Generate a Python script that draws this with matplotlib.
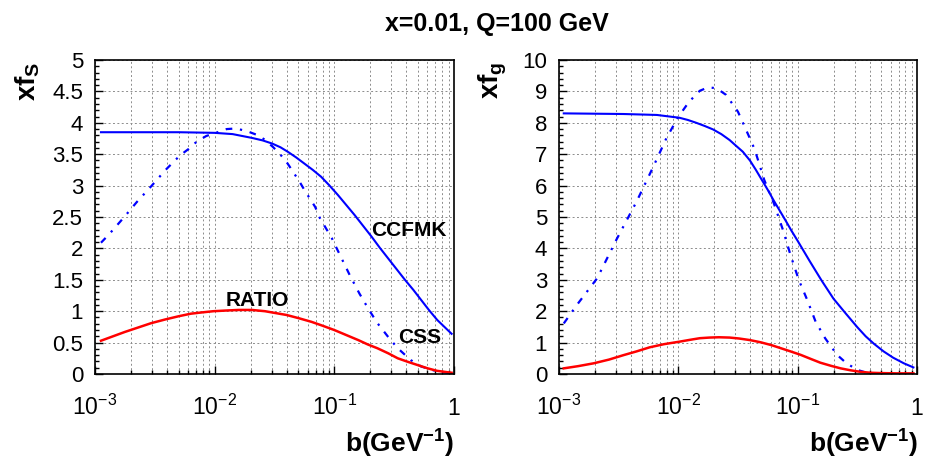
import matplotlib
matplotlib.use('Agg')
import matplotlib.pyplot as plt
import numpy as np
from matplotlib.ticker import MultipleLocator, LogLocator, NullFormatter

plt.rcParams['font.family'] = ['Liberation Sans', 'DejaVu Sans']
plt.rcParams['mathtext.fontset'] = 'custom'
plt.rcParams['mathtext.rm'] = 'Liberation Sans'
plt.rcParams['mathtext.it'] = 'Liberation Sans:italic'
plt.rcParams['mathtext.bf'] = 'Liberation Sans:bold'
plt.rcParams['mathtext.default'] = 'regular'

# log10(b) and xf values
# left panel: sea quarks
lb_s_ccfmk = [-2.95, -2.6, -2.3, -2.0, -1.85, -1.77, -1.69, -1.60, -1.52, -1.45,
              -1.39, -1.32, -1.25, -1.18, -1.11, -1.04, -0.97, -0.90, -0.83, -0.76,
              -0.69, -0.62, -0.55, -0.48, -0.41, -0.34, -0.275, -0.21, -0.14, -0.08,
              -0.02]
xfs_ccfmk = [3.85, 3.85, 3.85, 3.84, 3.82, 3.79, 3.76, 3.72, 3.67, 3.61,
             3.54, 3.45, 3.35, 3.25, 3.14, 3.00, 2.85, 2.69, 2.53, 2.36,
             2.19, 2.01, 1.84, 1.67, 1.50, 1.34, 1.18, 1.02, 0.86, 0.75,
             0.64]

lb_s_css = [-2.95, -2.88, -2.76, -2.65, -2.53, -2.41, -2.29, -2.22, -2.15, -2.07,
            -1.99, -1.90, -1.82, -1.72, -1.65, -1.58, -1.51, -1.44, -1.39, -1.29,
            -1.25, -1.16, -1.12, -1.07, -1.02, -0.98, -0.87, -0.79, -0.71, -0.64,
            -0.55, -0.47, -0.36, -0.275, -0.14, -0.02]
xfs_css = [2.09, 2.23, 2.49, 2.74, 2.99, 3.25, 3.48, 3.58, 3.70, 3.79,
           3.84, 3.90, 3.91, 3.86, 3.81, 3.73, 3.61, 3.47, 3.35, 3.06,
           2.93, 2.66, 2.48, 2.32, 2.16, 2.00, 1.57, 1.28, 1.02, 0.81,
           0.59, 0.41, 0.22, 0.12, 0.04, 0.01]

lb_s_ratio = [-2.95, -2.85, -2.75, -2.64, -2.53, -2.41, -2.30, -2.20, -2.11, -2.01,
              -1.91, -1.80, -1.69, -1.58, -1.49, -1.40, -1.30, -1.19, -1.10, -1.00,
              -0.90, -0.80, -0.72, -0.64, -0.55, -0.47, -0.38, -0.30, -0.22, -0.14,
              -0.02]
xfs_ratio = [0.53, 0.60, 0.67, 0.74, 0.81, 0.87, 0.92, 0.96, 0.98, 1.00,
             1.01, 1.02, 1.02, 1.00, 0.97, 0.94, 0.89, 0.83, 0.77, 0.70,
             0.62, 0.54, 0.47, 0.41, 0.33, 0.25, 0.19, 0.14, 0.09, 0.05,
             0.02]

# right panel: gluon
lb_g_ccfmk = [-2.96, -2.46, -2.18, -1.99, -1.92, -1.85, -1.78, -1.71, -1.64, -1.57,
              -1.52, -1.46, -1.40, -1.35, -1.30, -1.25, -1.20, -1.15, -1.10, -1.05,
              -1.00, -0.90, -0.80, -0.70, -0.60, -0.50, -0.43, -0.36, -0.28, -0.20,
              -0.11, -0.03]
xfg_ccfmk = [8.30, 8.28, 8.25, 8.16, 8.09, 8.00, 7.90, 7.79, 7.64, 7.45,
             7.28, 7.08, 6.80, 6.50, 6.18, 5.86, 5.52, 5.20, 4.88, 4.55,
             4.24, 3.60, 2.98, 2.40, 1.94, 1.49, 1.20, 0.96, 0.72, 0.52,
             0.34, 0.21]

lb_g_css = [-2.96, -2.85, -2.68, -2.52, -2.35, -2.21, -2.10, -2.00, -1.91, -1.82,
            -1.75, -1.68, -1.60, -1.50, -1.40, -1.36, -1.28, -1.20, -1.12, -1.06,
            -0.99, -0.92, -0.85, -0.77, -0.67, -0.59, -0.50, -0.42, -0.30, -0.02]
xfg_css = [1.61, 2.20, 3.05, 4.27, 5.49, 6.60, 7.51, 8.19, 8.67, 9.02,
           9.13, 9.10, 8.89, 8.35, 7.50, 7.15, 6.18, 5.44, 4.55, 3.79,
           2.99, 2.36, 1.67, 1.14, 0.61, 0.34, 0.13, 0.04, 0.0, 0.0]

lb_g_ratio = [-2.96, -2.84, -2.71, -2.58, -2.46, -2.35, -2.24, -2.12, -1.99, -1.90,
              -1.82, -1.74, -1.66, -1.57, -1.49, -1.40, -1.31, -1.22, -1.14, -1.06,
              -0.975, -0.89, -0.81, -0.72, -0.64, -0.56, -0.475, -0.39, -0.31, -0.17,
              -0.03]
xfg_ratio = [0.18, 0.25, 0.34, 0.46, 0.60, 0.72, 0.85, 0.95, 1.03, 1.09,
             1.14, 1.16, 1.17, 1.16, 1.13, 1.08, 1.01, 0.92, 0.82, 0.72,
             0.61, 0.48, 0.36, 0.26, 0.18, 0.12, 0.07, 0.04, 0.03, 0.02,
             0.02]

x_ticks = [1e-3, 1e-2, 1e-1, 1.0]
x_ticklabels = ['$10^{-3}$', '$10^{-2}$', '$10^{-1}$', '1']
ys_ticks = [0, 0.5, 1, 1.5, 2, 2.5, 3, 3.5, 4, 4.5, 5]
ys_ticklabels = ['0', '0.5', '1', '1.5', '2', '2.5', '3', '3.5', '4', '4.5', '5']
yg_ticks = [0, 1, 2, 3, 4, 5, 6, 7, 8, 9, 10]
yg_ticklabels = ['0', '1', '2', '3', '4', '5', '6', '7', '8', '9', '10']

W, H = 928, 463
fig = plt.figure(figsize=(W / 100, H / 100), dpi=100)
ax1 = fig.add_axes([95 / W, 1 - 374 / H, 359 / W, 314 / H])
ax2 = fig.add_axes([559 / W, 1 - 374 / H, 358 / W, 314 / H])

dashdot = (0, (3, 3.5, 1, 3.5))


def style_axes(ax, yticks, ylabels, ymax, yminor):
    ax.set_xscale('log')
    ax.set_xlim(1.04e-3, 1.0)
    ax.set_ylim(0, ymax)
    ax.set_xticks(x_ticks)
    ax.set_xticklabels([])
    ax.xaxis.set_minor_locator(LogLocator(base=10, subs=np.arange(2, 10)))
    ax.xaxis.set_minor_formatter(NullFormatter())
    ax.set_yticks(yticks)
    ax.set_yticklabels(ylabels)
    ax.yaxis.set_minor_locator(MultipleLocator(yminor))
    ax.tick_params(which='both', direction='in', top=False, right=False, width=1)
    ax.tick_params(which='major', length=5.5)
    ax.tick_params(which='minor', length=3)
    ax.tick_params(axis='y', labelsize=16, pad=8.5)
    ax.grid(True, which='major', axis='y', color='0.55', lw=0.7, ls=(0, (2, 2.5)))
    ax.grid(True, which='both', axis='x', color='0.55', lw=0.7, ls=(0, (2, 2.5)))
    ax.set_axisbelow(True)
    for sp in ax.spines.values():
        sp.set_linewidth(1.2)
    for xt, lab in zip(x_ticks, x_ticklabels):
        ax.text(xt, -0.1306, lab, transform=ax.get_xaxis_transform(),
                ha='center', va='baseline', fontsize=16.5)


style_axes(ax1, ys_ticks, ys_ticklabels, 5, 0.1)
style_axes(ax2, yg_ticks, yg_ticklabels, 10, 0.2)

ax1.plot(10 ** np.array(lb_s_ccfmk), xfs_ccfmk, color='blue', lw=1.5)
ax1.plot(10 ** np.array(lb_s_css), xfs_css, color='blue', lw=1.6, ls=dashdot)
ax1.plot(10 ** np.array(lb_s_ratio), xfs_ratio, color='red', lw=1.8)

ax2.plot(10 ** np.array(lb_g_ccfmk), xfg_ccfmk, color='blue', lw=1.5)
ax2.plot(10 ** np.array(lb_g_css), xfg_css, color='blue', lw=1.6, ls=dashdot)
ax2.plot(10 ** np.array(lb_g_ratio), xfg_ratio, color='red', lw=1.8)

ax1.text(0.203, 2.19, 'CCFMK', fontsize=15, weight='bold', ha='left', va='baseline')
ax1.text(0.01236, 1.083, 'RATIO', fontsize=15, weight='bold', ha='left', va='baseline')
ax1.text(0.341, 0.494, 'CSS', fontsize=15, weight='bold', ha='left', va='baseline')

fig.text(497 / W, 1 - 30.7 / H, 'x=0.01, Q=100 GeV', fontsize=18, weight='bold',
         ha='center', va='baseline')

fig.text(42 / W, 1 - 62 / H, 'xf$_{S}$', fontsize=20, weight='bold', rotation=90,
         ha='right', va='top')
fig.text(509 / W, 1 - 62 / H, 'xf$_{g}$', fontsize=20, weight='bold', rotation=90,
         ha='right', va='top')

fig.text(454 / W, 1 - 453 / H, r'b(GeV$^{\mathbf{-1}}$)', fontsize=19, weight='bold',
         ha='right', va='baseline')
fig.text(918 / W, 1 - 453 / H, r'b(GeV$^{\mathbf{-1}}$)', fontsize=19, weight='bold',
         ha='right', va='baseline')

fig.savefig('out.png', dpi=100)
